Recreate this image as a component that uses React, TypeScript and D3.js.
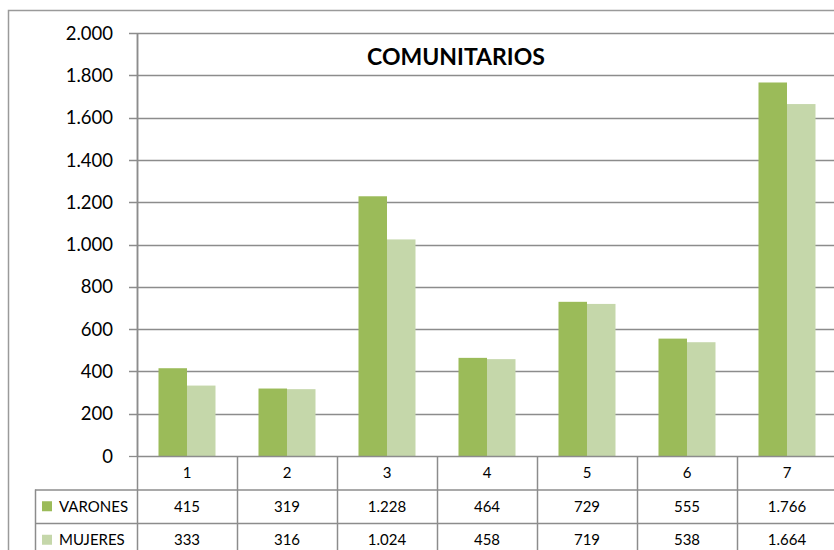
import React, { useRef, useEffect } from 'react';
import * as d3 from 'd3';

const categories = ['1', '2', '3', '4', '5', '6', '7'];
const seriesNames = ['VARONES', 'MUJERES'];
const varones = [415, 319, 1228, 464, 729, 555, 1766];
const mujeres = [333, 316, 1024, 458, 719, 538, 1664];
const yTicks = [0, 200, 400, 600, 800, 1000, 1200, 1400, 1600, 1800, 2000];
const colors = ['#9BBB59', '#C5D7AA'];

const width = 834;
const height = 550;
const font = 'Lato, "Open Sans", sans-serif';

const fmt = (v: number) => d3.format(',')(v).replace(/,/g, '.');

const App: React.FC = () => {
  const svgRef = useRef<SVGSVGElement>(null);

  useEffect(() => {
    if (!svgRef.current) return;
    const svg = d3.select(svgRef.current);
    svg.selectAll('*').remove();

    const left = 137;
    const right = 837;
    const top = 33;
    const bottom = 456;
    const rowH = 33.5;
    const gridColor = '#8c8c8c';

    // outer frame
    svg.append('path')
      .attr('d', `M8.5,${height} V10.5 H${width}`)
      .attr('fill', 'none')
      .attr('stroke', '#9a9a9a')
      .attr('stroke-width', 1.5);

    const x = d3.scaleBand<string>().domain(categories).range([left, right]);
    const xs = d3.scaleBand<string>()
      .domain(seriesNames)
      .range([x.bandwidth() * 0.215, x.bandwidth() * 0.785]);
    const y = d3.scaleLinear().domain([0, 2000]).range([bottom, top]);

    // gridlines + ticks
    const grid = svg.append('g');
    grid.selectAll('line.grid')
      .data(yTicks.filter((t) => t > 0))
      .enter()
      .append('line')
      .attr('x1', left - 8)
      .attr('x2', right)
      .attr('y1', (d) => Math.round(y(d)) + 0.5)
      .attr('y2', (d) => Math.round(y(d)) + 0.5)
      .attr('stroke', gridColor)
      .attr('stroke-width', 1.3);
    grid.append('line')
      .attr('x1', left - 8)
      .attr('x2', left)
      .attr('y1', bottom + 0.5)
      .attr('y2', bottom + 0.5)
      .attr('stroke', gridColor)
      .attr('stroke-width', 1.3);

    grid.selectAll('text')
      .data(yTicks)
      .enter()
      .append('text')
      .attr('x', 113)
      .attr('y', (d) => y(d))
      .attr('dy', '0.36em')
      .attr('text-anchor', 'end')
      .attr('font-family', font)
      .attr('font-size', 18.5)
      .attr('fill', '#000')
      .text((d) => fmt(d));

    // bars
    const rows = [varones, mujeres];
    seriesNames.forEach((s, si) => {
      svg.append('g')
        .selectAll('rect')
        .data(rows[si])
        .enter()
        .append('rect')
        .attr('x', (_, i) => (x(categories[i]) || 0) + (xs(s) || 0))
        .attr('width', xs.bandwidth())
        .attr('y', (d) => y(d))
        .attr('height', (d) => bottom - y(d))
        .attr('fill', colors[si]);
    });

    // axis line
    svg.append('line')
      .attr('x1', left + 0.5)
      .attr('x2', left + 0.5)
      .attr('y1', top)
      .attr('y2', bottom)
      .attr('stroke', gridColor)
      .attr('stroke-width', 1.5);

    // data table
    const table = svg.append('g').attr('stroke', gridColor).attr('stroke-width', 1.5);
    table.append('line')
      .attr('x1', left).attr('x2', right)
      .attr('y1', bottom + 0.5).attr('y2', bottom + 0.5);
    [1, 2].forEach((r) => {
      table.append('line')
        .attr('x1', 35).attr('x2', right)
        .attr('y1', bottom + rowH * r + 0.5).attr('y2', bottom + rowH * r + 0.5);
    });
    table.append('line')
      .attr('x1', 35.5).attr('x2', 35.5)
      .attr('y1', bottom + rowH).attr('y2', height);
    categories.forEach((c) => {
      const xv = Math.round(x(c) || 0) + 0.5;
      table.append('line')
        .attr('x1', xv).attr('x2', xv)
        .attr('y1', c === '1' ? top : bottom).attr('y2', height);
    });
    table.append('line')
      .attr('x1', right - 0.5).attr('x2', right - 0.5)
      .attr('y1', bottom).attr('y2', height);

    const txt = svg.append('g')
      .attr('font-family', font)
      .attr('font-size', 15)
      .attr('fill', '#000');
    txt.selectAll('text.cat')
      .data(categories)
      .enter()
      .append('text')
      .attr('x', (d) => (x(d) || 0) + x.bandwidth() / 2)
      .attr('y', bottom + rowH / 2)
      .attr('dy', '0.36em')
      .attr('text-anchor', 'middle')
      .text((d) => d);

    rows.forEach((vals, ri) => {
      const yc = bottom + rowH * (ri + 1) + rowH / 2;
      txt.selectAll(`text.v${ri}`)
        .data(vals)
        .enter()
        .append('text')
        .attr('x', (_, i) => (x(categories[i]) || 0) + x.bandwidth() / 2)
        .attr('y', yc)
        .attr('dy', '0.36em')
        .attr('text-anchor', 'middle')
        .text((d) => fmt(d));
      svg.append('rect')
        .attr('x', 42)
        .attr('y', yc - 5)
        .attr('width', 10)
        .attr('height', 10)
        .attr('fill', colors[ri]);
      txt.append('text')
        .attr('x', 59)
        .attr('y', yc)
        .attr('dy', '0.36em')
        .text(seriesNames[ri]);
    });

    // title
    svg.append('text')
      .attr('x', 456)
      .attr('y', 57)
      .attr('dy', '0.36em')
      .attr('text-anchor', 'middle')
      .attr('font-family', font)
      .attr('font-size', 23)
      .attr('font-weight', 'bold')
      .text('COMUNITARIOS');
  }, []);

  return (
    <div style={{ position: 'absolute', left: 0, top: 0 }}>
      <svg ref={svgRef} width={width} height={height} style={{ display: 'block', background: '#fff' }} />
    </div>
  );
};

export default App;
